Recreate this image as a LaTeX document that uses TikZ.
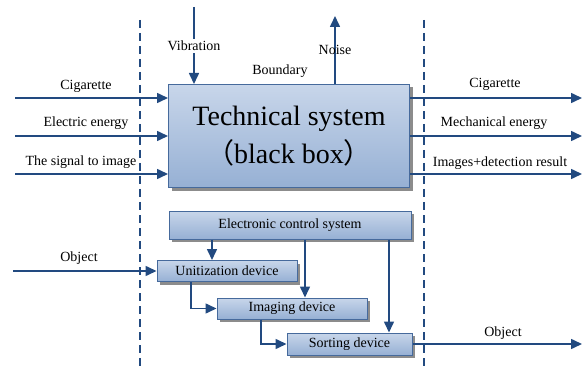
\documentclass[tikz,border=0pt]{standalone}
\usepackage{fontspec}
\setmainfont{Liberation Serif}
\newfontfamily\cjk{Noto Sans CJK SC}
\usepackage{xcolor}
\usetikzlibrary{arrows.meta, positioning, shadows}

\definecolor{lineblue}{RGB}{34,74,128}
\definecolor{boxedge}{RGB}{70,106,156}
\definecolor{boxtop}{RGB}{200,214,234}
\definecolor{boxbot}{RGB}{150,176,212}

\begin{document}
\begin{tikzpicture}[x=1pt, y=-1pt,
    flow/.style={draw=lineblue, line width=1.6pt, -{Triangle[length=11pt,width=10pt]}},
    bound/.style={draw=lineblue, line width=1.6pt, dash pattern=on 8pt off 5pt},
    blk/.style={draw=boxedge, line width=1pt, top color=boxtop, bottom color=boxbot,
      drop shadow={shadow xshift=3pt, shadow yshift=-3pt, fill=black!45, opacity=1},
      inner sep=0pt, font=\fontsize{14}{16}\selectfont},
    lbl/.style={inner sep=0pt, font=\fontsize{14}{16}\selectfont}]
  \useasboundingbox (0,0) rectangle (582,369);

  % boundary
  \draw[bound] (140,20) -- (140,369);
  \draw[bound] (424,20) -- (424,369);
  \node[lbl] (boundary) at (280,71) {Boundary};

  % black box
  \node[blk, minimum width=241pt, minimum height=103pt, align=center,
    font=\fontsize{28}{38}\selectfont] (sys) at (289,136)
    {Technical system\\{\cjk （}black box{\cjk ）}};

  % inputs
  \coordinate (in1) at (15,98);
  \coordinate (in2) at (15,136);
  \coordinate (in3) at (15,174);
  \draw[flow] (in1) -- (in1 -| sys.west);
  \draw[flow] (in2) -- (in2 -| sys.west);
  \draw[flow] (in3) -- (in3 -| sys.west);
  \node[lbl] (cigin) at (86,86) {Cigarette};
  \node[lbl] (elec) at (86,123) {Electric energy};
  \node[lbl] (sig) at (81,162) {The signal to image};

  % outputs
  \coordinate (out1) at (582,98);
  \coordinate (out2) at (582,136);
  \coordinate (out3) at (582,174);
  \draw[flow] (out1 -| sys.east) -- (out1);
  \draw[flow] (out2 -| sys.east) -- (out2);
  \draw[flow] (out3 -| sys.east) -- (out3);
  \node[lbl] (cigout) at (495,84) {Cigarette};
  \node[lbl] (mech) at (494,123) {Mechanical energy};
  \node[lbl] (res) at (500,163) {Images+detection result};

  % vibration and noise
  \coordinate (vib) at (194,7);
  \coordinate (noise) at (335,16);
  \draw[flow] (vib) -- (vib |- sys.north);
  \draw[flow] (noise |- sys.north) -- (noise);
  \node[lbl, fill=white, inner sep=2pt] (viblbl) at (194,46) {Vibration};
  \node[lbl] (noiselbl) at (335,50) {Noise};

  % inside the box
  \node[blk, minimum width=242pt, minimum height=28pt] (ctrl) at (290,225) {Electronic control system};
  \node[blk, minimum width=140pt, minimum height=21pt] (unit) at (227,271) {Unitization device};
  \node[blk, minimum width=150pt, minimum height=21pt] (img) at (292,308.5) {Imaging device};
  \node[blk, minimum width=125pt, minimum height=22pt] (sort) at (349.5,344) {Sorting device};

  \coordinate (c1) at (212,0);
  \coordinate (c2) at (305,0);
  \coordinate (c3) at (389,0);
  \coordinate (u1) at (191,0);
  \coordinate (i1) at (261,0);
  \draw[flow] (ctrl.south -| c1) -- (unit.north -| c1);
  \draw[flow] (ctrl.south -| c2) -- (img.north -| c2);
  \draw[flow] (ctrl.south -| c3) -- (sort.north -| c3);
  \draw[flow] (unit.south -| u1) |- (img.west);
  \draw[flow] (img.south -| i1) |- (sort.west);

  \coordinate (objin) at (13,271);
  \coordinate (objout) at (582,344);
  \draw[flow] (objin) -- (unit.west);
  \draw[flow] (sort.east) -- (objout);
  \node[lbl] (objinlbl) at (79,258) {Object};
  \node[lbl] (objoutlbl) at (503,333) {Object};
\end{tikzpicture}
\end{document}
